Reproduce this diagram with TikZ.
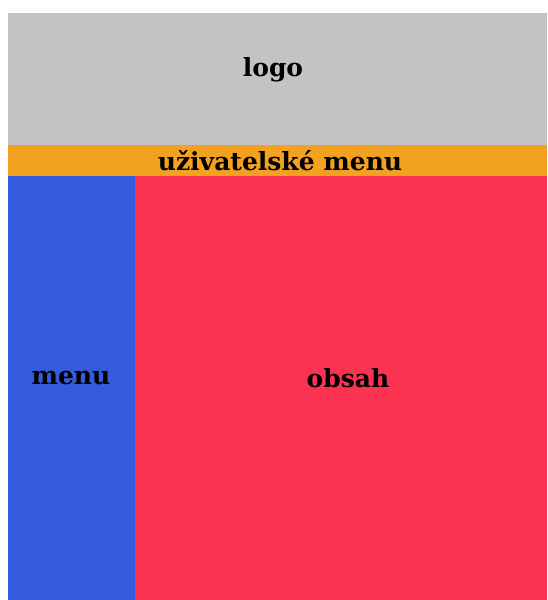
\documentclass[tikz,border=0pt]{standalone}
\usepackage{fontspec}
\setmainfont{DejaVu Serif}
\definecolor{cgray}{HTML}{C3C3C3}
\definecolor{corange}{HTML}{F3A21F}
\definecolor{cblue}{HTML}{335BDB}
\definecolor{cred}{HTML}{FC3251}
\tikzset{lbl/.style={font=\bfseries\fontsize{25}{27}\selectfont, text=black, inner sep=0pt}}
\begin{document}
\begin{tikzpicture}[x=1pt,y=1pt]
\useasboundingbox (0,0) rectangle (547,600);
\fill[cgray] (8,455) rectangle (547,587);
\fill[corange] (8,424) rectangle (547,455);
\fill[cblue] (8,0) rectangle (135,424);
\fill[cred] (135,0) rectangle (547,424);
\node[lbl] (logo) at (273,530) {logo};
\node[lbl] (umenu) at (280,439) {uživatelské menu};
\node[lbl] (menu) at (71,222) {menu};
\node[lbl] (obsah) at (348,222) {obsah};
\end{tikzpicture}
\end{document}
